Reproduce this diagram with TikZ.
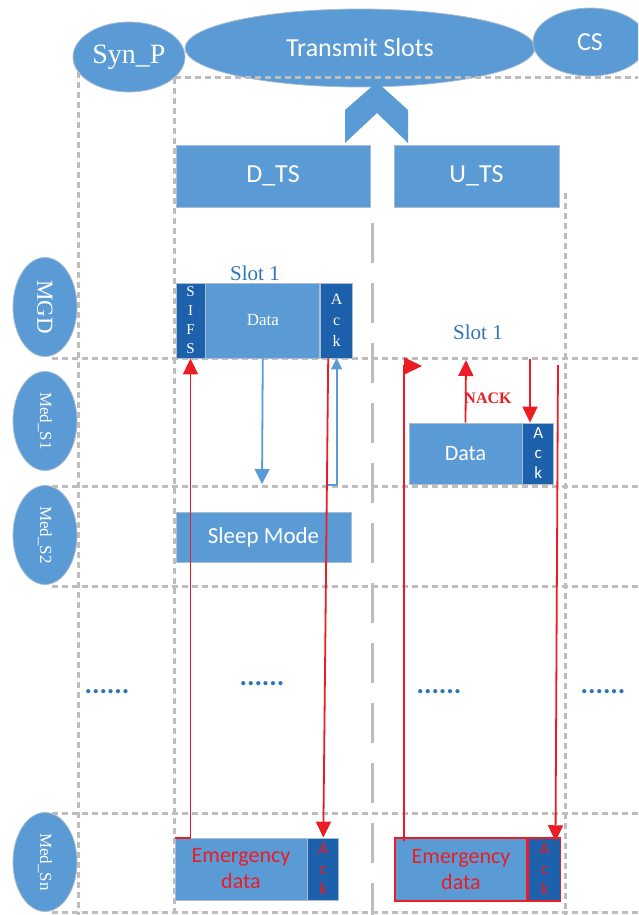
\documentclass[tikz,border=0pt]{standalone}
\usepackage{fontspec}
\setmainfont{Liberation Serif}
\setsansfont{Carlito}
\usetikzlibrary{shapes.geometric,positioning,arrows.meta,calc}

\begin{document}
\begin{tikzpicture}[x=1pt,y=-1pt,
  topoval/.style={ellipse, fill=tsBlue, draw=tsEdge, line width=0.8pt, text=white, inner sep=0pt},
  rowoval/.style={ellipse, fill=tsBlue, draw=tsEdge, line width=0.8pt, text=white, inner sep=0pt,
    rotate=-90, minimum width=99pt, minimum height=64pt, font=\fontsize{17}{19}\selectfont},
  slotbox/.style={rectangle, fill=tsBlue, draw=tsEdge, line width=0.8pt, text=white, inner sep=0pt,
    font=\sffamily\fontsize{22}{26}\selectfont},
  ackbox/.style={slotbox, fill=tsDark, align=center, font=\sffamily\fontsize{17}{20}\selectfont},
  gridline/.style={tsGrid, line width=3pt, dash pattern=on 6pt off 4pt},
  redarrow/.style={tsRed, line width=1.8pt, -{Triangle[length=16pt,width=15pt]}},
  bluearrow/.style={tsBlue, line width=1.8pt, -{Triangle[length=15pt,width=15pt]}},
  slotlabel/.style={text=tsLabel, font=\fontsize{21}{24}\selectfont},
  dotrow/.style={text=tsLabel, font=\sffamily\bfseries\fontsize{28}{30}\selectfont}
]
\definecolor{tsBlue}{HTML}{5B9BD5}
\definecolor{tsDark}{HTML}{1D60AB}
\definecolor{tsEdge}{HTML}{A9BCD0}
\definecolor{tsGrid}{HTML}{BDBDBD}
\definecolor{tsRed}{HTML}{EA1D24}
\definecolor{tsLabel}{HTML}{2E74B5}
\useasboundingbox (0,0) rectangle (638,915);
\clip (0,0) rectangle (638,915);

\node[topoval, minimum width=112pt, minimum height=70pt, font=\fontsize{28}{30}\selectfont] (synp) at (129,57) {Syn\_P};
\node[topoval, minimum width=350pt, minimum height=78pt, font=\sffamily\fontsize{26}{30}\selectfont] (slots) at (360,48) {Transmit Slots};
\node[topoval, minimum width=114pt, minimum height=68pt, font=\sffamily\fontsize{26}{30}\selectfont] (cs) at (590,42) {CS};

\node[rowoval, font=\fontsize{23}{25}\selectfont] (mgd) at (45,307) {MGD};
\node[rowoval] (meds1) at (45,421) {Med\_S1};
\node[rowoval] (meds2) at (45,535) {Med\_S2};
\node[rowoval] (medsn) at (45,862) {Med\_Sn};

\foreach \y in {358,486,586,813,912} {
  \draw[gridline] (52,\y) -- (638,\y);
}
\draw[gridline] (175,78) -- (638,78);
\draw[gridline] (78,72) -- (78,915);
\draw[gridline] (174,78) -- (174,915);
\draw[gridline] (565,193) -- (565,915);
\draw[gridline, dash pattern=on 40pt off 20pt] (372,223) -- (372,915);

\fill[tsBlue] (345,143) -- (345,110) -- (377,82) -- (408,110) -- (408,143) -- (377,113) -- cycle;
\node[slotbox, minimum width=194pt, minimum height=62pt, font=\sffamily\fontsize{26}{30}\selectfont] (dts) at (273,176) {D\_TS};
\node[slotbox, minimum width=165pt, minimum height=62pt, font=\sffamily\fontsize{26}{30}\selectfont] (uts) at (476.5,176) {U\_TS};

\node[slotlabel] (slotd) at (255,273) {Slot 1};
\node[ackbox, minimum width=29pt, minimum height=75pt, font=\fontsize{15}{19}\selectfont] (sifs) at (190.5,320.5) {S\\I\\F\\S};
\node[slotbox, right=0pt of sifs, minimum width=114pt, minimum height=75pt, font=\fontsize{17}{19}\selectfont] (mgddata) {Data};
\node[ackbox, right=0pt of mgddata, minimum width=32pt, minimum height=75pt, font=\fontsize{16}{21}\selectfont] (mgdack) {A\\c\\k};

\node[slotbox, minimum width=175pt, minimum height=50pt, font=\sffamily\fontsize{23}{26}\selectfont] (sleep) at (263.5,537) {Sleep Mode};

\node[slotlabel] (slotu) at (478,332) {Slot 1};
\node[slotbox, minimum width=113pt, minimum height=61pt] (rdata) at (465.5,453.5) {Data};
\node[ackbox, right=0pt of rdata, minimum width=31pt, minimum height=61pt] (rack) {A\\c\\k};
\node[text=tsRed, font=\bfseries\fontsize{16}{18}\selectfont] (nack) at (488,398) {NACK};

\node[slotbox, minimum width=132pt, minimum height=62pt, text=tsRed, align=center, font=\sffamily\fontsize{22}{26}\selectfont] (emL) at (241,869) {Emergency\\data};
\node[ackbox, right=0pt of emL, minimum width=31pt, minimum height=62pt, text=tsRed] (emLack) {A\\c\\k};
\node[slotbox, draw=tsRed, line width=1.5pt, minimum width=132pt, minimum height=63pt, text=tsRed, align=center, font=\sffamily\fontsize{22}{26}\selectfont] (emR) at (461,869.5) {Emergency\\data};
\node[ackbox, draw=tsRed, line width=1.5pt, right=0pt of emR, minimum width=32pt, minimum height=63pt, text=tsRed] (emRack) {A\\c\\k};

\node[dotrow] (dots1) at (107,692) {......};
\node[dotrow] (dots2) at (262,684) {......};
\node[dotrow] (dots3) at (439,692) {......};
\node[dotrow] (dots4) at (603,692) {......};

\coordinate (downtip) at (262,484);
\coordinate (hook) at (328,485);
\draw[bluearrow] (mgddata.south) -- (downtip);
\draw[bluearrow, -{Triangle[length=11pt,width=11pt]}] (hook) -| (mgdack.south);

\draw[redarrow] (emL.north west) -| (sifs.south);
\draw[redarrow] ($(mgdack.south west)+(8,0)$) -- (emLack.north);

\coordinate (flagtip) at (422,366);
\coordinate (nacktip) at (466,360);
\coordinate (acktop) at (530,359);
\coordinate (rtop) at (558,365);
\draw[redarrow, -{Triangle[length=18pt,width=17pt]}] ($(emR.north west)+(10,4)$) |- (flagtip);
\draw[redarrow] (rdata.north) -- (nacktip);
\draw[redarrow] (acktop) -- (acktop |- rack.north);
\draw[redarrow] (rtop) -- ($(emRack.north)+(11,4)$);
\end{tikzpicture}
\end{document}
